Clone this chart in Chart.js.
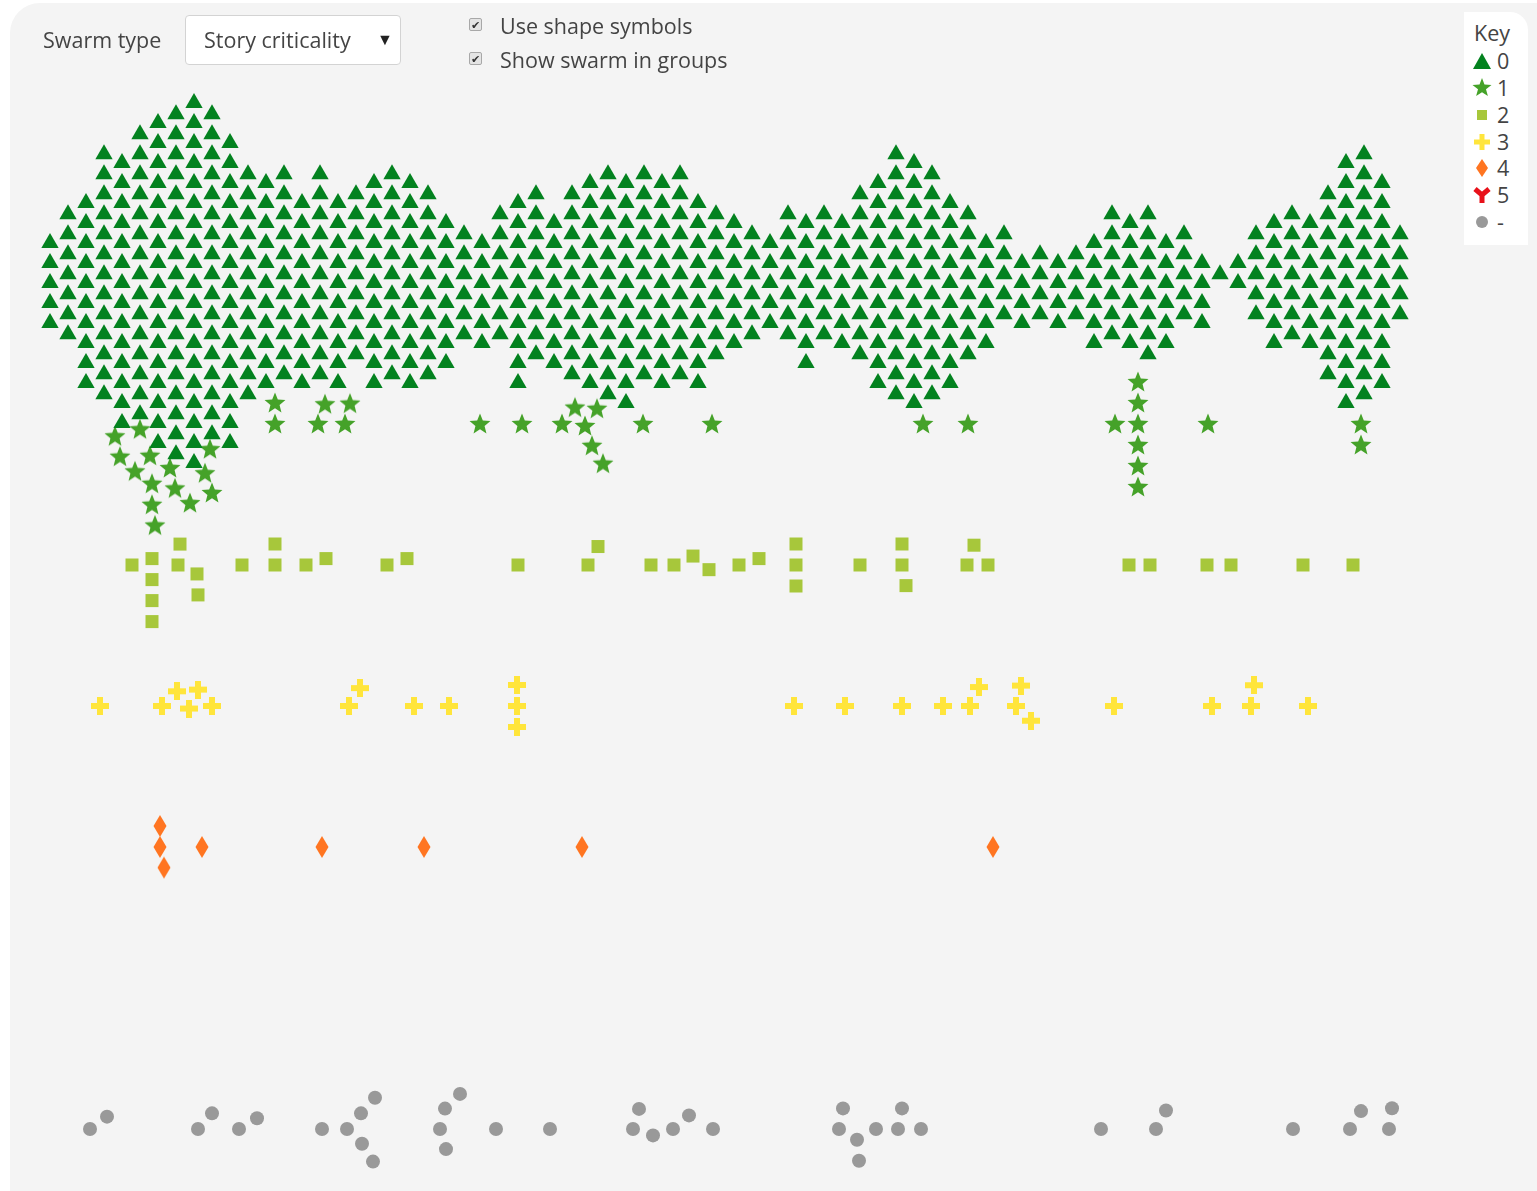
<!DOCTYPE html>
<html>
<head>
<meta charset="utf-8">
<script src="https://cdn.jsdelivr.net/npm/chart.js"></script>
<style>
  body { margin: 0; width: 1537px; height: 1191px; overflow: hidden; background: #fff;
         font-family: "Open Sans", "Noto Sans", sans-serif; color: #444; }
  #panel { position: absolute; left: 10px; top: 3px; width: 1527px; height: 1188px;
           background: #f4f4f4; border-top-left-radius: 30px; }
  #chartBox { position: absolute; left: 0; top: 0; width: 1537px; height: 1191px; }
  .txt { position: absolute; font-size: 21.5px; line-height: 28px; white-space: nowrap; }
  #select { position: absolute; left: 185px; top: 15px; width: 216px; height: 50px; box-sizing: border-box;
            background: #fff; border: 1px solid #d3d3d3; border-radius: 4px; }
  .box { position: absolute; width: 13px; height: 13px; box-sizing: border-box; border: 1px solid #a8a8a8;
         background: #e4e4e4; border-radius: 2px; font-size: 11px; line-height: 11px; text-align: center; color: #333; }
  #key { position: absolute; left: 1464px; top: 12px; width: 64px; height: 233px; background: #fff;
         border-top-right-radius: 18px; }
  #key svg { position: absolute; left: 8px; width: 20px; height: 20px; }
  #key .txt { left: 33px; }
</style>
</head>
<body>
<div id="panel"></div>
<div id="chartBox"><canvas id="swarm"></canvas></div>

<div class="txt" style="left:43px;top:26px;">Swarm type</div>
<div id="select"></div>
<div class="txt" style="left:204px;top:26px;">Story criticality</div>
<div class="txt" style="left:377px;top:25px;font-size:16px;color:#222;">&#9660;</div>
<div class="box" style="left:469px;top:18px;">&#10004;</div>
<div class="txt" style="left:500px;top:12px;">Use shape symbols</div>
<div class="box" style="left:469px;top:52px;">&#10004;</div>
<div class="txt" style="left:500px;top:46px;">Show swarm in groups</div>

<div id="key">
  <div class="txt" style="left:10px;top:7px;">Key</div>
  <svg style="top:39px" viewBox="0 0 20 20"><polygon points="1,18 10,2 19,18" fill="#03821f"/></svg>
  <div class="txt" style="top:35px;">0</div>
  <svg style="top:66px" viewBox="0 0 20 20"><polygon points="10,0 12.47,6.6 19.51,6.91 13.99,11.3 15.88,18.09 10,14.2 4.12,18.09 6.01,11.3 0.49,6.91 7.53,6.6" fill="#45a229"/></svg>
  <div class="txt" style="top:62px;">1</div>
  <svg style="top:93px" viewBox="0 0 20 20"><rect x="5" y="5" width="10" height="10" fill="#a7c73b"/></svg>
  <div class="txt" style="top:89px;">2</div>
  <svg style="top:120px" viewBox="0 0 20 20"><path d="M7.5 2h5v5.5h5.5v5h-5.5v5.5h-5v-5.5h-5.5v-5h5.5z" fill="#ffe53b"/></svg>
  <div class="txt" style="top:116px;">3</div>
  <svg style="top:146px" viewBox="0 0 20 20"><polygon points="10,1 16,10 10,19 4,10" fill="#ff7521"/></svg>
  <div class="txt" style="top:142px;">4</div>
  <svg style="top:173px" viewBox="0 0 20 20"><path d="M3 4L10 10L17 4M10 10V18" stroke="#e8111a" stroke-width="5" fill="none"/></svg>
  <div class="txt" style="top:169px;">5</div>
  <svg style="top:200px" viewBox="0 0 20 20"><circle cx="10" cy="10" r="6" fill="#999"/></svg>
  <div class="txt" style="top:196px;">-</div>
</div>

<script>
// ---- data: story positions on the timeline, per criticality group ----
const groupNames = ["0", "1", "2", "3", "4", "5", "-"];

// group 0: timeline columns and how many stories sit in each
const group0Days = [50, 68, 86, 104, 122, 140, 158, 176, 194, 212,
  230, 248, 266, 284, 302, 320, 338, 356, 374, 392,
  410, 428, 446, 464, 482, 500, 518, 536, 554, 572,
  590, 608, 626, 644, 662, 680, 698, 716, 734, 752,
  770, 788, 806, 824, 842, 860, 878, 896, 914, 932,
  950, 968, 986, 1004, 1022, 1040, 1058, 1076, 1094, 1112,
  1130, 1148, 1166, 1184, 1202, 1220, 1238, 1256, 1274, 1292,
  1310, 1328, 1346, 1364, 1382, 1400];
const group0Counts = [5, 7, 10, 13, 14, 15, 17, 18, 19, 17,
  16, 12, 11, 11, 10, 11, 10, 9, 11, 11,
  11, 10, 8, 6, 6, 7, 10, 9, 8, 10,
  11, 12, 12, 11, 11, 11, 10, 8, 7, 6,
  5, 7, 8, 7, 7, 9, 11, 13, 13, 12,
  10, 8, 6, 5, 4, 4, 4, 4, 6, 7,
  7, 8, 6, 5, 4, 1, 2, 5, 7, 7,
  7, 10, 13, 13, 11, 5];

const group1Days = [115, 120, 135, 140, 150, 152, 152, 155, 170, 175, 190, 205, 210, 212,
  275, 275, 318, 325, 345, 350,
  480, 522, 562, 575, 585, 592, 597, 603, 643, 712,
  923, 968, 1115, 1138, 1138, 1138, 1138, 1138, 1138, 1208, 1361, 1361];

const group2Days = [132, 152, 152, 152, 152, 178, 180, 197, 198, 242, 275, 275, 306, 326, 387, 407,
  518, 588, 598, 651, 674, 693, 709, 739, 759, 796, 796, 796, 860, 902, 902, 906,
  967, 974, 988, 1129, 1150, 1207, 1231, 1303, 1353];

const group3Days = [100, 162, 177, 189, 198, 212, 349, 360, 414, 449, 517, 517, 517,
  794, 845, 902, 943, 970, 979, 1016, 1021, 1031, 1114, 1212, 1251, 1254, 1308];

const group4Days = [160, 160, 164, 202, 322, 424, 582, 993];

const group5Days = [];

const groupNoneDays = [90, 107, 198, 212, 239, 257, 322, 347, 361, 362, 373, 375,
  440, 445, 446, 460, 496, 550, 633, 639, 653, 673, 689, 713,
  839, 843, 857, 859, 876, 898, 902, 921, 1101, 1156, 1166, 1293, 1350, 1361, 1389, 1392];

// ---- layout ----
const W = 1537, H = 1191;
const BAND_TOP = 283, BAND_STEP = 141;   // pixel centre of group 0, spacing between groups
const OTHER_GAP = 15;                    // looser spacing against marks of another group

const canvas = document.getElementById("swarm");
canvas.width = W; canvas.height = H;
canvas.style.width = W + "px"; canvas.style.height = H + "px";

function makeSymbol(w, h, draw) {
  const c = document.createElement("canvas");
  c.width = w; c.height = h;
  draw(c.getContext("2d"));
  return c;
}
const starImg = makeSymbol(24, 24, ctx => {
  ctx.fillStyle = "#45a229";
  ctx.beginPath();
  for (let k = 0; k < 10; k++) {
    const r = k % 2 ? 4.8 : 11;
    const a = -Math.PI / 2 + k * Math.PI / 5;
    ctx.lineTo(12 + r * Math.cos(a), 12.5 + r * Math.sin(a));
  }
  ctx.closePath(); ctx.fill();
});
const plusImg = makeSymbol(18, 18, ctx => {
  ctx.fillStyle = "#ffe53b";
  ctx.fillRect(6, 0, 6, 18);
  ctx.fillRect(0, 6, 18, 6);
});
const diamondImg = makeSymbol(14, 24, ctx => {
  ctx.fillStyle = "#ff7521";
  ctx.beginPath();
  ctx.moveTo(7, 1); ctx.lineTo(13.5, 12); ctx.lineTo(7, 23); ctx.lineTo(0.5, 12);
  ctx.closePath(); ctx.fill();
});

// beeswarm placement: each story goes as close to its group line as it can without overlapping
const placed = [];
function swarm(days, g, gap) {
  const cy = BAND_TOP + BAND_STEP * g;
  const out = [];
  days.slice().sort((a, b) => a - b).forEach(x => {
    const near = placed.filter(p => Math.abs(p.x - x) < (p.g === g ? gap : OTHER_GAP))
      .map(p => ({ x: p.x, y: p.y, d: p.g === g ? gap : OTHER_GAP }));
    const cands = [cy];
    near.forEach(p => {
      const h = Math.sqrt(p.d * p.d - (p.x - x) * (p.x - x));
      cands.push(p.y - h, p.y + h);
    });
    cands.sort((a, b) => Math.abs(a - cy) - Math.abs(b - cy));
    const y = cands.find(c => near.every(p => (p.x - x) ** 2 + (p.y - c) ** 2 >= p.d * p.d - 0.01));
    placed.push({ x: x, y: y, g: g });
    out.push({ x: x, y: (y - BAND_TOP) / BAND_STEP });
  });
  return out;
}

const group0All = [];
group0Days.forEach((d, i) => { for (let k = 0; k < group0Counts[i]; k++) group0All.push(d); });

const pts0 = swarm(group0All, 0, 20);
const pts1 = swarm(group1Days, 1, 21);
const pts2 = swarm(group2Days, 2, 21);
const pts3 = swarm(group3Days, 3, 21);
const pts4 = swarm(group4Days, 4, 21);
const pts5 = swarm(group5Days, 5, 21);
const ptsN = swarm(groupNoneDays, 6, 21);

new Chart(canvas, {
  type: "scatter",
  data: {
    datasets: [
      { label: groupNames[0], data: pts0, pointStyle: "triangle", pointRadius: 10, backgroundColor: "#03821f", borderWidth: 0 },
      { label: groupNames[1], data: pts1, pointStyle: starImg },
      { label: groupNames[2], data: pts2, pointStyle: "rect", pointRadius: 9.2, backgroundColor: "#a7c73b", borderWidth: 0 },
      { label: groupNames[3], data: pts3, pointStyle: plusImg },
      { label: groupNames[4], data: pts4, pointStyle: diamondImg },
      { label: groupNames[5], data: pts5, pointStyle: "crossRot", pointRadius: 8, borderColor: "#e8111a" },
      { label: groupNames[6], data: ptsN, pointStyle: "circle", pointRadius: 7, backgroundColor: "#999999", borderWidth: 0 }
    ]
  },
  options: {
    responsive: false,
    animation: false,
    events: [],
    layout: { padding: 0, autoPadding: false },
    plugins: { legend: { display: false }, tooltip: { enabled: false } },
    scales: {
      x: { type: "linear", display: false, min: 0, max: W },
      y: { type: "linear", display: false, reverse: true,
           min: -BAND_TOP / BAND_STEP, max: (H - BAND_TOP) / BAND_STEP }
    }
  }
});
</script>
</body>
</html>
